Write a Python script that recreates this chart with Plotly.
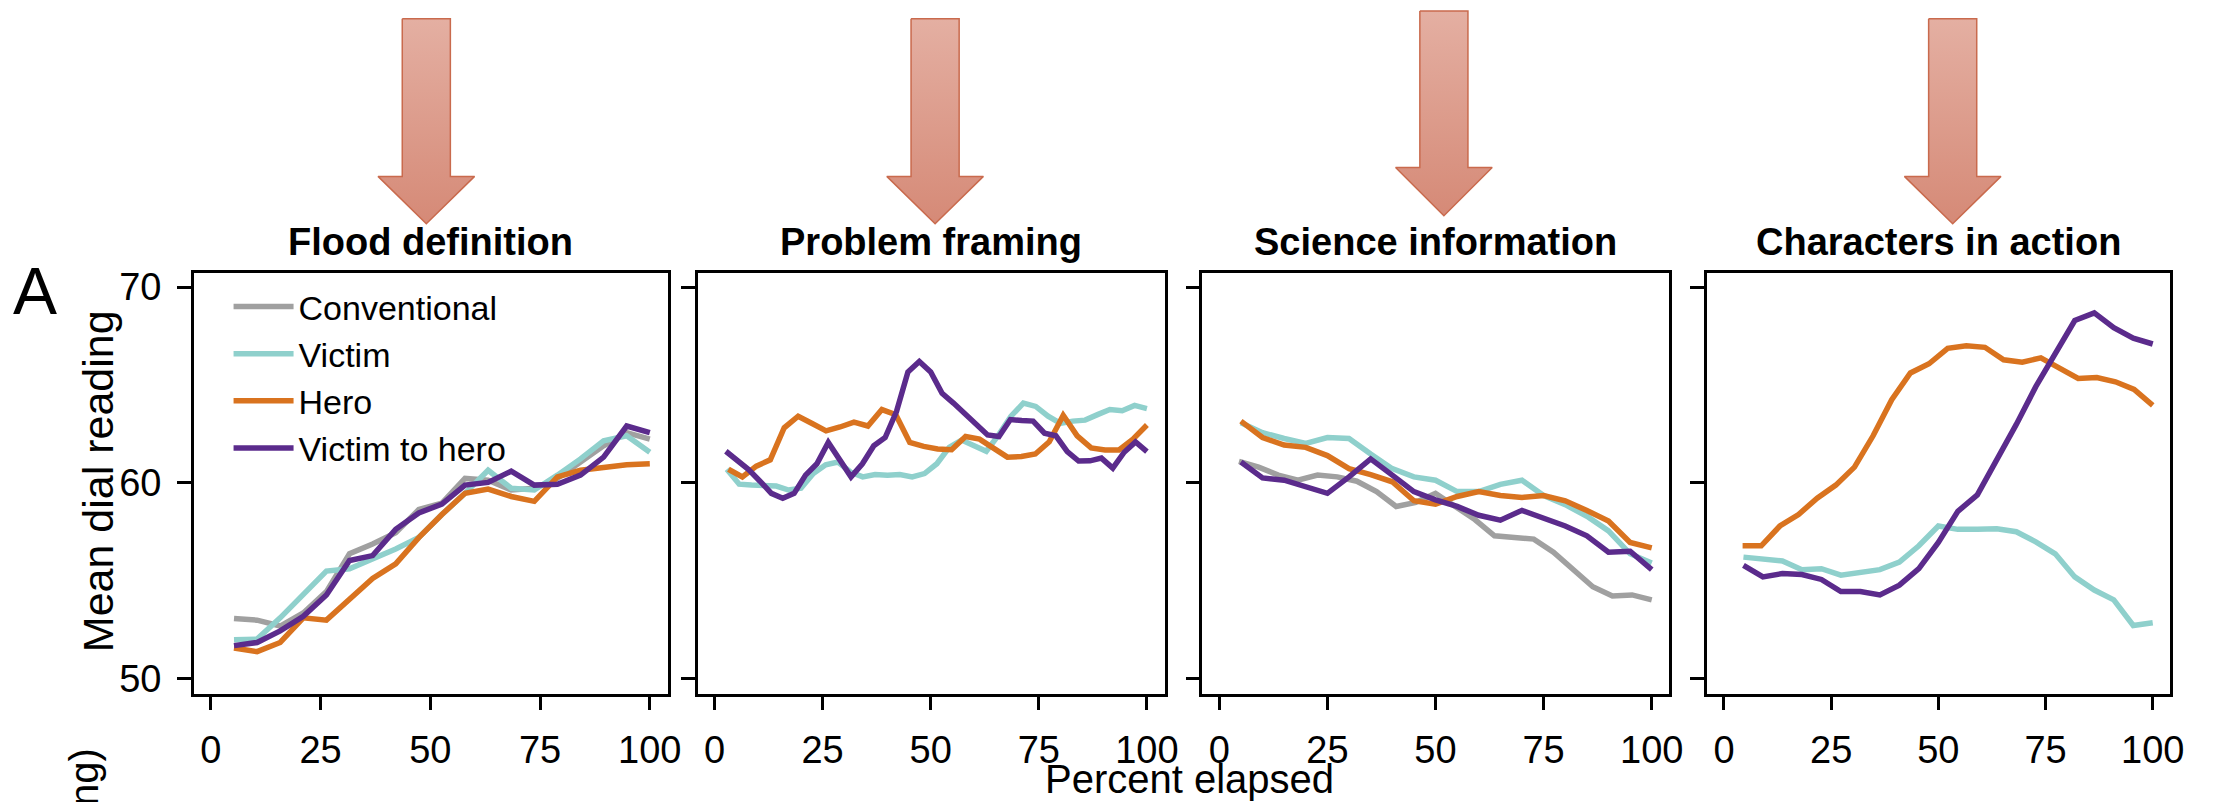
import plotly.graph_objects as go

W, H = 2234, 802

# ---------------- data ----------------
panel_titles = ["Flood definition", "Problem framing", "Science information", "Characters in action"]
series_names = ["Conventional", "Victim", "Hero", "Victim to hero"]
series_colors = ["#a0a0a0", "#8fd0cc", "#d9731f", "#5b2b8c"]
x_tick_vals = [0, 25, 50, 75, 100]
y_tick_vals = [50, 60, 70]

# Panel 1: Flood definition
conv1 = [53.07, 52.98, 52.68, 53.35, 54.44, 56.37, 56.87, 57.45, 58.63, 58.96,
         60.22, 60.13, 59.63, 59.72, 60.22, 61.06, 61.89, 62.56, 62.23]
vic1 = [51.98, 52.01, 53.10, 54.27, 55.49, 55.61, 56.11, 56.62, 57.20, 58.38,
        59.46, 60.64, 59.72, 59.63, 60.39, 61.22, 62.14, 62.40, 61.56]
hero1 = [51.56, 51.37, 51.84, 53.10, 52.98, 54.02, 55.11, 55.86, 57.20, 58.38,
         59.46, 59.68, 59.30, 59.05, 60.30, 60.64, 60.80, 60.92, 60.97]
v2h1 = [51.68, 51.84, 52.43, 53.18, 54.27, 56.03, 56.28, 57.62, 58.46, 58.91,
        59.88, 60.02, 60.59, 59.88, 59.92, 60.39, 61.31, 62.90, 62.56]

# Panel 2: Problem framing (no conventional)
vic2 = [60.69, 59.93, 59.88, 59.85, 59.83, 59.63, 59.72, 60.47, 60.92, 61.06,
        60.55, 60.30, 60.42, 60.39, 60.42, 60.30, 60.47, 60.97, 61.81, 62.18,
        61.89, 61.61, 62.45, 63.40, 64.07, 63.90, 63.40, 63.03, 63.15, 63.20,
        63.48, 63.74, 63.68, 63.95, 63.79]
hero2 = [60.69, 60.30, 60.85, 61.17, 62.81, 63.40, 63.03, 62.65, 62.85, 63.10,
         62.90, 63.74, 63.48, 62.06, 61.86, 61.73, 61.69, 62.36, 62.23, 61.81,
         61.31, 61.34, 61.47, 62.09, 63.45, 62.40, 61.78, 61.68, 61.68, 62.23,
         62.95]
v2h2 = [61.61, 61.17, 60.67, 60.08, 59.46, 59.21, 59.46, 60.39, 60.97, 62.06,
        61.14, 60.30, 60.97, 61.89, 62.31, 63.65, 65.66, 66.20, 65.66, 64.57,
        64.07, 63.53, 62.98, 62.44, 62.36, 63.23, 63.18, 63.15, 62.53, 62.40,
        61.59, 61.11, 61.12, 61.26, 60.75, 61.56, 62.09, 61.59]

# Panel 3: Science information
conv3 = [61.09, 60.80, 60.39, 60.13, 60.39, 60.30, 60.08, 59.55, 58.79, 59.00,
         59.46, 58.79, 58.12, 57.29, 57.20, 57.12, 56.45, 55.53, 54.69, 54.22,
         54.27, 54.02]
vic3 = [63.07, 62.56, 62.26, 62.01, 62.31, 62.26, 61.47, 60.72, 60.30, 60.13,
        59.55, 59.55, 59.92, 60.13, 59.35, 58.88, 58.29, 57.54, 56.37, 55.90]
hero3 = [63.15, 62.31, 61.93, 61.81, 61.39, 60.72, 60.42, 60.05, 59.08, 58.91,
         59.30, 59.55, 59.35, 59.25, 59.35, 59.08, 58.58, 58.04, 56.95, 56.67]
v2h3 = [61.06, 60.25, 60.13, 59.83, 59.46, 60.30, 61.22, 60.39, 59.55, 59.13,
        58.79, 58.34, 58.09, 58.59, 58.17, 57.79, 57.29, 56.45, 56.50, 55.56]

# Panel 4: Characters in action (no conventional)
vic4 = [56.20, 56.11, 56.00, 55.56, 55.61, 55.28, 55.39, 55.56, 55.95, 56.78,
        57.79, 57.62, 57.62, 57.65, 57.50, 56.98, 56.37, 55.19, 54.52, 54.02,
        52.71, 52.85]
hero4 = [56.78, 56.78, 57.79, 58.38, 59.21, 59.88, 60.80, 62.40, 64.24, 65.61,
         66.08, 66.87, 67.00, 66.92, 66.28, 66.16, 66.38, 65.83, 65.33, 65.38,
         65.16, 64.77, 63.95]
v2h4 = [55.78, 55.19, 55.36, 55.31, 55.06, 54.44, 54.44, 54.27, 54.77, 55.61,
        56.95, 58.54, 59.38, 61.14, 62.98, 64.91, 66.67, 68.29, 68.68, 67.92,
        67.39, 67.09]

panels_data = [
    [conv1, vic1, hero1, v2h1],
    [None, vic2, hero2, v2h2],
    [conv3, vic3, hero3, v2h3],
    [None, vic4, hero4, v2h4],
]

# ---------------- layout geometry (pixels) ----------------
panel_px = [(195, 672), (702, 1172), (1210, 1680), (1718, 2184)]
panel_top, panel_bottom = 271, 698
x_range = [-3.9, 104.1]
y_range = [49.23, 70.72]

# decorative arrows: (center x, top, neck, tip) in pixels
arrow_specs = [(429, 13, 173, 221), (941, 13, 173, 221),
               (1453, 5, 164, 213), (1965, 13, 173, 221)]
shaft_half, head_half = 24.2, 48.6


def fx(px):
    return px / W


def fy(py):
    return 1 - py / H


FONT = "Liberation Sans, Arial, Helvetica, sans-serif"
TICKFONT = "Liberation Sans Narrow, Arial Narrow, Liberation Sans, Arial, sans-serif"

fig = go.Figure()

for i, series in enumerate(panels_data):
    ax = "" if i == 0 else str(i + 1)
    for j, vals in enumerate(series):
        if vals is None:
            continue
        n = len(vals)
        xs = [100 * k / n for k in range(1, n + 1)]
        fig.add_trace(go.Scatter(
            x=xs, y=vals, mode="lines", name=series_names[j],
            line=dict(color=series_colors[j], width=5.5),
            xaxis="x" + ax, yaxis="y" + ax,
            legendgroup=series_names[j], showlegend=(i == 0),
        ))

# arrows on an overlay pixel axis
for cx, top, neck, tip in arrow_specs:
    ax_ = [cx - shaft_half, cx + shaft_half, cx + shaft_half, cx + head_half, cx,
           cx - head_half, cx - shaft_half, cx - shaft_half]
    ay_ = [top, top, neck, neck, tip, neck, neck, top]
    fig.add_trace(go.Scatter(
        x=ax_, y=ay_, mode="lines", fill="toself",
        line=dict(color="#c96a4d", width=1.5),
        fillgradient=dict(type="vertical",
                          colorscale=[[0, "#e4afa2"], [1, "#d58976"]],
                          start=top, stop=tip),
        xaxis="x5", yaxis="y5", showlegend=False, hoverinfo="skip",
    ))

layout = dict(
    width=W, height=H,
    margin=dict(l=0, r=0, t=0, b=0),
    paper_bgcolor="white", plot_bgcolor="rgba(0,0,0,0)",
    font=dict(family=FONT, color="black"),
    showlegend=True,
    legend=dict(x=fx(230), y=fy(276), xanchor="left", yanchor="top",
                font=dict(size=34, family=FONT), bgcolor="rgba(0,0,0,0)",
                tracegroupgap=0, itemwidth=60),
)

for i, (l, r) in enumerate(panel_px):
    ax = "" if i == 0 else str(i + 1)
    layout["xaxis" + ax] = dict(
        domain=[fx(l), fx(r)], range=x_range, anchor="y" + ax,
        tickvals=x_tick_vals, ticks="outside", ticklen=14, tickwidth=2.5,
        tickcolor="black", showline=True, mirror=True, linecolor="black",
        linewidth=2.5, showgrid=False, zeroline=False,
        tickfont=dict(size=38, family=TICKFONT), ticklabelstandoff=7,
    )
    layout["yaxis" + ax] = dict(
        domain=[fy(panel_bottom), fy(panel_top)], range=y_range, anchor="x" + ax,
        tickvals=y_tick_vals, ticks="outside", ticklen=14, tickwidth=2.5,
        tickcolor="black", showline=True, mirror=True, linecolor="black",
        linewidth=2.5, showgrid=False, zeroline=False,
        showticklabels=(i == 0),
        tickfont=dict(size=38, family=TICKFONT), ticklabelstandoff=8,
    )

layout["xaxis5"] = dict(domain=[0, 1], range=[0, W], anchor="y5", visible=False, fixedrange=True)
layout["yaxis5"] = dict(domain=[0, 1], range=[H, 0], anchor="x5", visible=False, fixedrange=True)

annotations = []
for i, (l, r) in enumerate(panel_px):
    annotations.append(dict(
        text=panel_titles[i], x=fx((l + r) / 2), y=fy(263), xref="paper", yref="paper",
        xanchor="center", yanchor="bottom", showarrow=False,
        font=dict(size=38, family=FONT, weight="bold"),
    ))
annotations += [
    dict(text="Percent elapsed", x=fx(1197), y=fy(785), xref="paper", yref="paper",
         xanchor="center", yanchor="middle", showarrow=False, font=dict(size=40)),
    dict(text="Mean dial reading", x=fx(98), y=fy(482), xref="paper", yref="paper",
         xanchor="center", yanchor="middle", showarrow=False, textangle=-90,
         font=dict(size=43)),
    dict(text="A", x=fx(35), y=fy(289), xref="paper", yref="paper",
         xanchor="center", yanchor="middle", showarrow=False, font=dict(size=66)),
    dict(text="dial reading)", x=fx(84), y=fy(751), xref="paper", yref="paper",
         xanchor="center", yanchor="top", showarrow=False, textangle=-90,
         font=dict(size=40)),
]
layout["annotations"] = annotations

fig.update_layout(**layout)
fig.write_html("out.html", config={"displayModeBar": False},
               post_script="document.body.style.margin='0';")
